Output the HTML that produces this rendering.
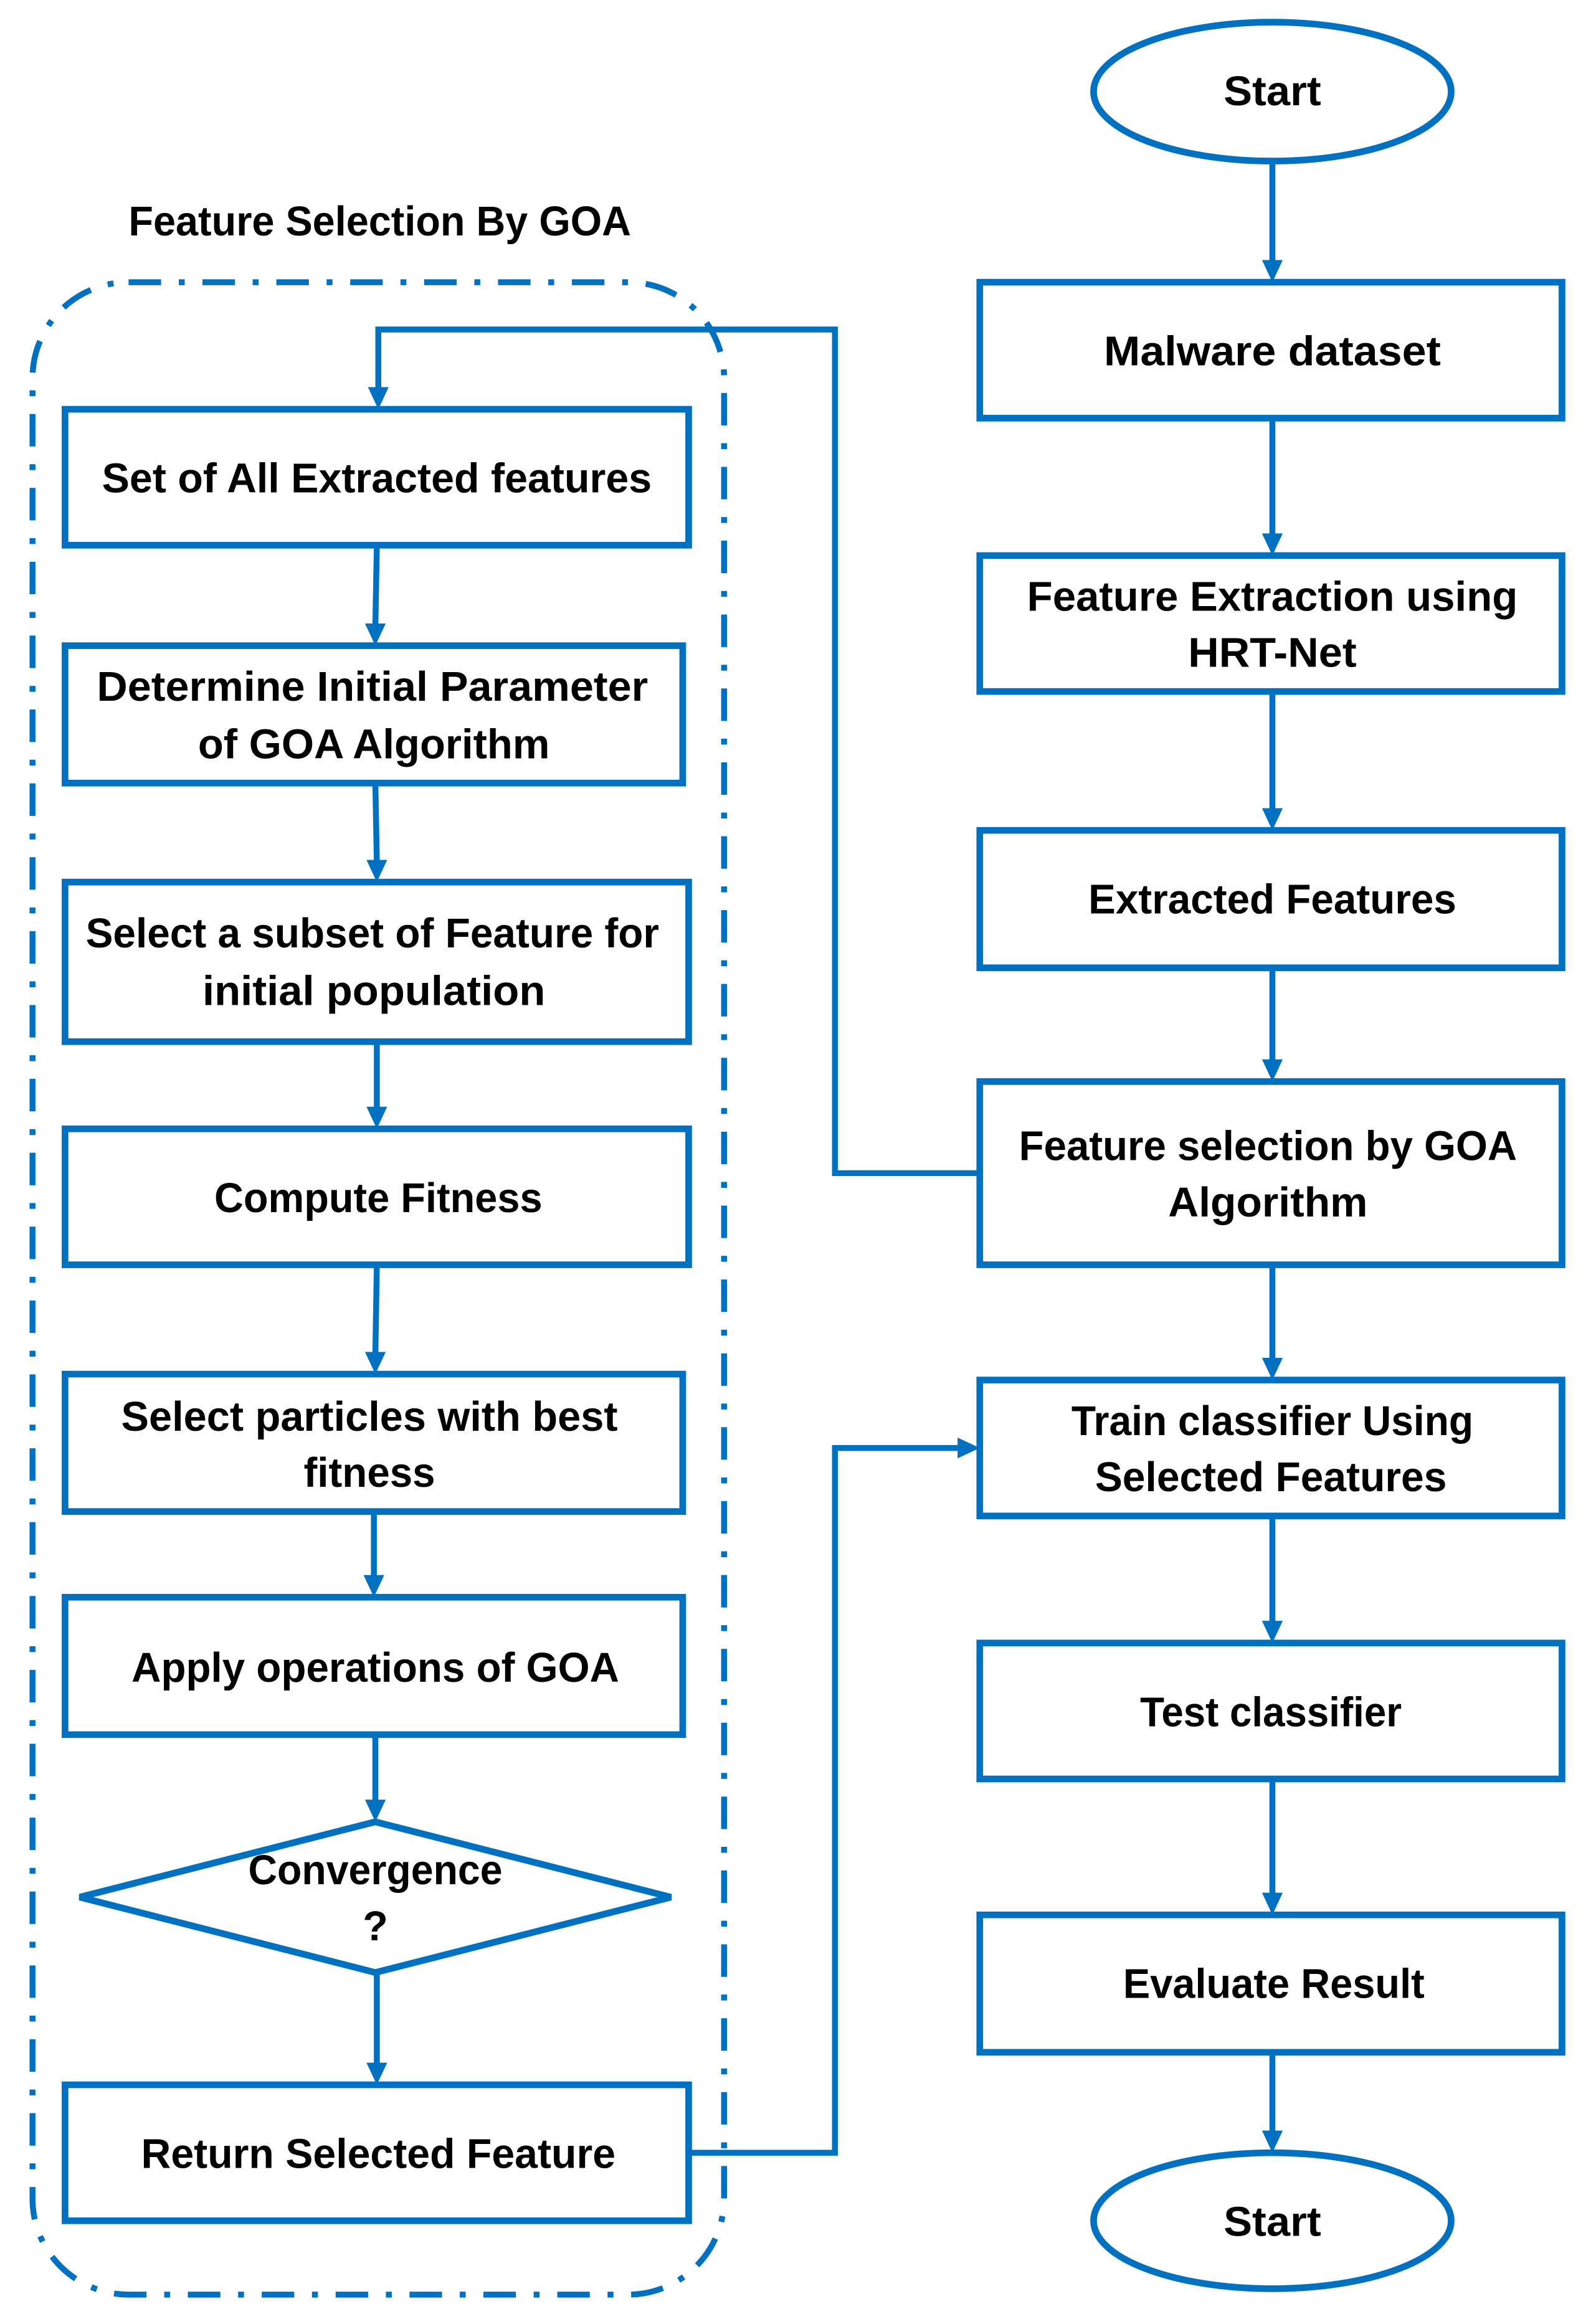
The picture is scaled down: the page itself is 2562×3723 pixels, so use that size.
<!DOCTYPE html>
<html><head><meta charset="utf-8"><style>html,body{margin:0;padding:0;background:#fff}svg{display:block}</style></head>
<body>
<svg xmlns="http://www.w3.org/2000/svg" width="2562" height="3723" viewBox="0 0 1080 1569.5" preserveAspectRatio="none">
<g fill="none" stroke="#0070C0" stroke-width="4.5">
<rect x="22" y="191" width="468" height="1362" rx="65" stroke-width="4" stroke-dasharray="22,12,4,12"/>
<ellipse cx="861" cy="62" rx="121" ry="47"/>
<ellipse cx="861" cy="1503" rx="121" ry="46"/>
<rect x="663" y="191" width="394" height="92"/>
<rect x="663" y="376" width="394" height="92"/>
<rect x="663" y="562" width="394" height="93"/>
<rect x="663" y="732" width="394" height="124"/>
<rect x="663" y="934" width="394" height="92"/>
<rect x="663" y="1112" width="394" height="92"/>
<rect x="663" y="1296" width="394" height="93"/>
<rect x="44" y="277" width="422" height="92"/>
<rect x="44" y="437" width="418" height="93"/>
<rect x="44" y="597" width="422" height="108"/>
<rect x="44" y="764" width="422" height="92"/>
<rect x="44" y="930" width="418" height="93"/>
<rect x="44" y="1081" width="418" height="93"/>
<polygon points="54,1284 254,1233 454,1284 254,1335"/>
<rect x="44" y="1411" width="422" height="92"/>
</g>
<g fill="none" stroke="#0070C0" stroke-width="4">
<line x1="861" y1="109" x2="861" y2="178"/>
<line x1="861" y1="283" x2="861" y2="363"/>
<line x1="861" y1="468" x2="861" y2="549"/>
<line x1="861" y1="655" x2="861" y2="719"/>
<line x1="861" y1="856" x2="861" y2="921"/>
<line x1="861" y1="1026" x2="861" y2="1099"/>
<line x1="861" y1="1204" x2="861" y2="1283"/>
<line x1="861" y1="1389" x2="861" y2="1444"/>
<line x1="255" y1="369" x2="254" y2="424"/>
<line x1="254" y1="530" x2="255" y2="584"/>
<line x1="255" y1="705" x2="255" y2="751"/>
<line x1="255" y1="856" x2="254" y2="917"/>
<line x1="253" y1="1023" x2="253" y2="1068"/>
<line x1="254" y1="1174" x2="254" y2="1220"/>
<line x1="255" y1="1335" x2="255" y2="1398"/>
<polyline points="663,794 565,794 565,223 256,223 256,264"/>
<polyline points="466,1457 565,1457 565,980 650,980"/>
</g>
<g fill="#0070C0">
<path d="M854,176 L868,176 L861,191 Z"/>
<path d="M854,361 L868,361 L861,376 Z"/>
<path d="M854,547 L868,547 L861,562 Z"/>
<path d="M854,717 L868,717 L861,732 Z"/>
<path d="M854,919 L868,919 L861,934 Z"/>
<path d="M854,1097 L868,1097 L861,1112 Z"/>
<path d="M854,1281 L868,1281 L861,1296 Z"/>
<path d="M854,1442 L868,1442 L861,1457 Z"/>
<path d="M247,422 L261,422 L254,437 Z"/>
<path d="M248,582 L262,582 L255,597 Z"/>
<path d="M248,749 L262,749 L255,764 Z"/>
<path d="M247,915 L261,915 L254,930 Z"/>
<path d="M246,1066 L260,1066 L253,1081 Z"/>
<path d="M247,1218 L261,1218 L254,1233 Z"/>
<path d="M248,1396 L262,1396 L255,1411 Z"/>
<path d="M249,262 L263,262 L256,277 Z"/>
<path d="M648,973 L648,987 L663,980 Z"/>
</g>
<g font-family="Liberation Sans, sans-serif" font-weight="bold" font-size="28" fill="#000" text-anchor="middle" dominant-baseline="central">
<text x="861" y="62" textLength="66" lengthAdjust="spacingAndGlyphs">Start</text>
<text x="861" y="1504" textLength="66" lengthAdjust="spacingAndGlyphs">Start</text>
<text x="257" y="150" textLength="340" lengthAdjust="spacingAndGlyphs">Feature Selection By GOA</text>
<text x="861" y="238" textLength="228" lengthAdjust="spacingAndGlyphs">Malware dataset</text>
<text x="861" y="404" textLength="332" lengthAdjust="spacingAndGlyphs">Feature Extraction  using</text>
<text x="861" y="442" textLength="114" lengthAdjust="spacingAndGlyphs">HRT-Net</text>
<text x="861" y="609" textLength="249" lengthAdjust="spacingAndGlyphs">Extracted Features</text>
<text x="858" y="776" textLength="337" lengthAdjust="spacingAndGlyphs">Feature selection by GOA</text>
<text x="858" y="814" textLength="135" lengthAdjust="spacingAndGlyphs">Algorithm</text>
<text x="861" y="962" textLength="272" lengthAdjust="spacingAndGlyphs">Train classifier Using</text>
<text x="860" y="1000" textLength="238" lengthAdjust="spacingAndGlyphs">Selected Features</text>
<text x="860" y="1159" textLength="177" lengthAdjust="spacingAndGlyphs">Test classifier</text>
<text x="862" y="1343" textLength="204" lengthAdjust="spacingAndGlyphs">Evaluate Result</text>
<text x="255" y="324" textLength="372" lengthAdjust="spacingAndGlyphs">Set of All Extracted features</text>
<text x="252" y="465" textLength="373" lengthAdjust="spacingAndGlyphs">Determine Initial Parameter</text>
<text x="253" y="504" textLength="238" lengthAdjust="spacingAndGlyphs">of GOA Algorithm</text>
<text x="252" y="632" textLength="388" lengthAdjust="spacingAndGlyphs">Select a subset of Feature for</text>
<text x="253" y="671" textLength="232" lengthAdjust="spacingAndGlyphs">initial population</text>
<text x="256" y="811" textLength="222" lengthAdjust="spacingAndGlyphs">Compute Fitness</text>
<text x="250" y="959" textLength="336" lengthAdjust="spacingAndGlyphs">Select particles with best</text>
<text x="250" y="997" textLength="89" lengthAdjust="spacingAndGlyphs">fitness</text>
<text x="254" y="1129" textLength="330" lengthAdjust="spacingAndGlyphs">Apply operations of GOA</text>
<text x="254" y="1266" textLength="172" lengthAdjust="spacingAndGlyphs">Convergence</text>
<text x="254" y="1304">?</text>
<text x="256" y="1458" textLength="321" lengthAdjust="spacingAndGlyphs">Return Selected Feature</text>
</g>
</svg>
</body></html>
